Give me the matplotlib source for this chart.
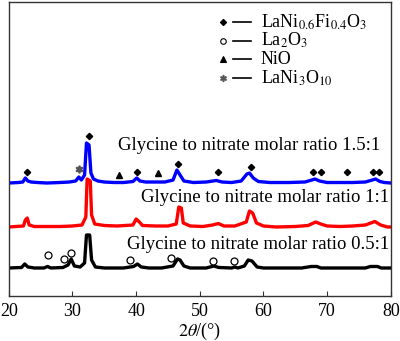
import matplotlib.pyplot as plt

plt.rcParams["font.family"] = ["Liberation Serif", "DejaVu Serif"]
plt.rcParams["mathtext.fontset"] = "stix"

# ---------------------------------------------------------------
# XRD patterns (2theta in degrees, intensity in arbitrary units)
# ---------------------------------------------------------------
theta_15 = [20.0, 21.5, 22.2, 22.6, 23.0, 23.5, 24.5, 26.0, 28.0, 29.5, 30.5, 31.0,
            31.4, 31.9, 32.2, 32.6, 32.9, 33.3, 34.0, 35.0, 36.5, 38.0, 39.5, 40.1,
            40.6, 41.5, 43.0, 44.5, 45.8, 46.4, 46.9, 47.5, 49.0, 51.0, 52.6, 53.5,
            55.0, 56.5, 57.4, 57.8, 58.4, 59.2, 61.0, 64.0, 66.5, 67.6, 68.1, 68.8,
            70.0, 72.0, 74.0, 76.0, 77.1, 77.6, 78.3, 79.0, 80.0]
inten_15 = [0, 0.5, 1, 5, 2, 1, 0.5, 0, 0.5, 1, 2, 6,
            3, 8, 40, 38, 10, 4, 2, 1, 0.5, 0.5, 1.5, 5,
            2, 1, 1, 1, 3, 13, 8, 2, 0.5, 1, 2.5, 1,
            0.5, 2, 9, 10, 5, 1.5, 0.5, 0.5, 1, 3, 4, 2,
            0.5, 0.5, 0.5, 1, 3, 4, 1.5, 0.5, 0]

theta_10 = [20.0, 22.3, 22.6, 22.9, 23.2, 24.0, 26.0, 28.0, 30.0, 31.5, 32.1, 32.3,
            32.8, 33.0, 33.5, 35.0, 37.0, 39.5, 40.0, 40.5, 41.0, 43.0, 45.0, 46.3,
            46.7, 47.1, 47.4, 48.5, 50.5, 52.0, 52.9, 53.8, 55.5, 57.3, 57.8, 58.3,
            58.9, 60.0, 62.0, 65.0, 67.0, 68.2, 69.0, 70.0, 72.0, 74.0, 76.0, 77.5,
            78.4, 79.5, 80.0]
inten_10 = [0, 1, 7, 9, 2, 0.5, 0.5, 0.5, 1, 2, 10, 48,
            46, 12, 3, 1.5, 1, 2, 8, 5, 1.5, 1, 1, 3,
            20, 19, 4, 1, 0.5, 2, 3.5, 1, 1, 5, 16, 14,
            4, 1, 0, 0.5, 1.5, 5, 3, 1, 0.5, 1, 2, 5.5,
            2, 0, 0]

theta_05 = [20.0, 22.0, 22.5, 23.0, 24.0, 25.5, 26.1, 26.6, 28.5, 29.3, 29.8, 30.3,
            31.2, 31.9, 32.2, 32.7, 33.0, 33.6, 35.0, 38.0, 39.6, 40.2, 40.8, 42.0,
            44.0, 45.8, 46.5, 46.9, 47.5, 48.5, 51.0, 52.2, 53.0, 55.0, 55.5, 56.0,
            57.0, 57.6, 58.2, 59.0, 60.0, 66.0, 67.5, 68.4, 69.0, 76.0, 76.8, 77.9,
            78.5, 80.0]
inten_05 = [0, 0.5, 4, 1, 0, 0, 1.5, 0, 0.5, 3, 9, 2,
            1, 5, 33, 33, 8, 1, 0, 0, 1.5, 4, 1, 0,
            0, 2, 9, 8, 2, 0, 0, 2, 0.5, 0, 1, 0,
            2, 8, 7, 1, 0, 0, 1.5, 1.5, 0, 0, 1.5, 1.5,
            0, 0]

# phase markers: (2theta, height)
perov_pos = [22.8, 32.6, 40.2, 46.6, 52.9, 58.0, 67.8, 69.1, 73.1, 77.2, 78.1]
perov_h = [124, 160, 124, 132, 124, 129, 124, 124, 124, 124, 124]
nio_pos = [37.3, 43.5]
nio_h = [121, 123]
la3ni_pos = [31.0]
la3ni_h = [127]
la2o3_pos = [26.2, 28.7, 29.8, 39.0, 45.5, 52.0, 55.4]
la2o3_h = [41, 37, 43, 36, 38, 35, 35]

labels = ["Glycine to nitrate molar ratio 0.5:1",
          "Glycine to nitrate molar ratio 1:1",
          "Glycine to nitrate molar ratio 1.5:1"]

# vertical offsets for stacking
off_05, off_10, off_15 = 28, 69, 113

fig = plt.figure(figsize=(4.0, 3.41), dpi=100)
ax = fig.add_axes([0.022, 0.132, 0.955, 0.862])

ax.plot(theta_05, [v + off_05 for v in inten_05], color="black", lw=2.4)
ax.plot(theta_10, [v + off_10 for v in inten_10], color="red", lw=2.4)
ax.plot(theta_15, [v + off_15 for v in inten_15], color="blue", lw=2.4)

ax.plot(perov_pos, perov_h, marker="D", color="black", ms=3.2, ls="none")
ax.plot(nio_pos, nio_h, marker="^", color="black", ms=4.2, ls="none")
ax.plot(la3ni_pos, la3ni_h, marker="$*$", color="#555555", ms=5, ls="none")
ax.plot(la2o3_pos, la2o3_h, marker="o", mfc="white", mec="black", ms=5, mew=0.9,
        ls="none")

ax.text(78.4, 151, labels[2], ha="right", va="center", fontsize=13.5)
ax.text(79.8, 99, labels[1], ha="right", va="center", fontsize=13.5)
ax.text(79.8, 51, labels[0], ha="right", va="center", fontsize=13.5)

# phase key, upper right
key = [("D", "black", "black", 3.2, "LaNi$_{0.6}$Fi$_{0.4}$O$_3$"),
       ("o", "white", "black", 4.0, "La$_2$O$_3$"),
       ("^", "black", "black", 4.0, "NiO"),
       ("$*$", "#555555", "#555555", 4.5, "LaNi$_3$O$_{10}$")]
for i, (m, fc, ec, ms, txt) in enumerate(key):
    yk = 274 - i * 18.7
    ax.plot([53.6], [yk], marker=m, mfc=fc, mec=ec, ms=ms, mew=0.8, ls="none")
    ax.plot([55.2, 58.0], [yk, yk], color="black", lw=1.2)
    ax.text(59.6, yk, txt, ha="left", va="center", fontsize=13)

ax.set_xlim(20, 80)
ax.set_ylim(0, 294)
ax.set_xticks([20, 30, 40, 50, 60, 70, 80])
ax.set_yticks([])
ax.tick_params(axis="x", direction="in", length=3.5, labelsize=13, pad=5,
               color="#333333")
ax.set_xlabel(r"$2\theta$/(°)", fontsize=13, labelpad=1)
for s in ax.spines.values():
    s.set_linewidth(1.0)
    s.set_color("#333333")

fig.savefig("out.png", dpi=100)
